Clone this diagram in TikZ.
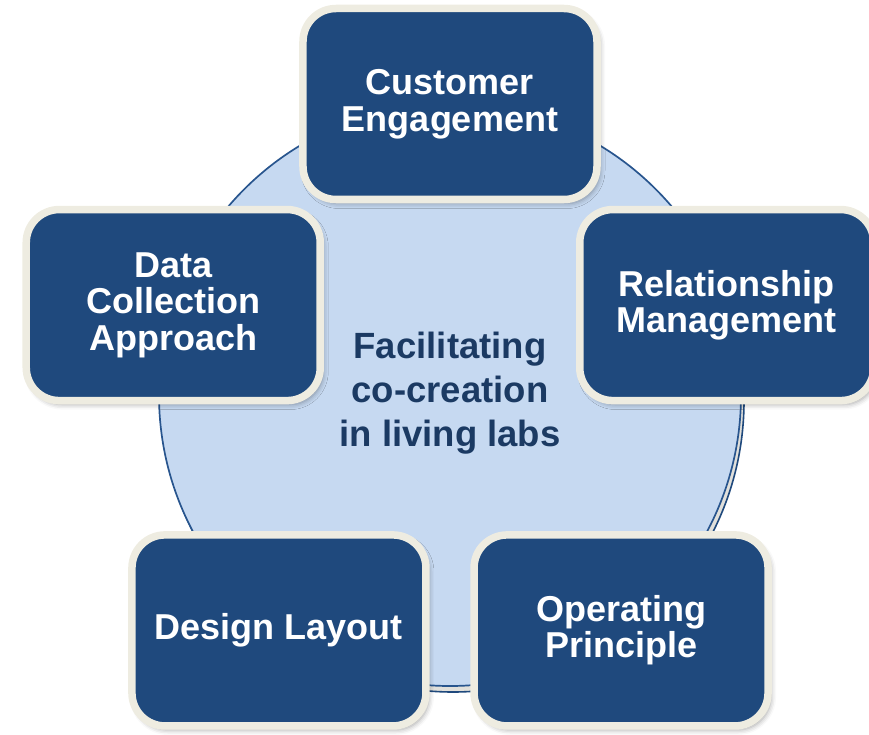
\documentclass[tikz,border=0pt]{standalone}
\usepackage{fontspec}
\setmainfont{Liberation Sans}
\usetikzlibrary{positioning, shadows.blur}
\definecolor{labnavy}{HTML}{1F497D}
\definecolor{labcream}{HTML}{EEECE1}
\definecolor{labsky}{HTML}{C6D9F1}
\definecolor{labink}{HTML}{1B3A63}
\definecolor{labrim}{HTML}{3566A8}

\begin{document}
\begin{tikzpicture}[x=1pt, y=1pt,
  hub/.style={circle, draw=labnavy!60!labrim, line width=1.7pt, fill=labsky,
              minimum size=582pt, inner sep=0pt},
  hubshade/.style={circle, draw=labnavy, line width=1.6pt, fill=labcream!70!gray!60,
                   minimum size=582pt, inner sep=0pt},
  facet/.style={rectangle, rounded corners=33pt, draw=labcream, line width=7.5pt,
                fill=labnavy, minimum width=294pt, minimum height=191pt,
                inner sep=0pt, align=center, text=white,
                font=\bfseries\fontsize{36}{36.5}\selectfont,
                blur shadow={shadow xshift=3pt, shadow yshift=-4pt,
                             shadow blur radius=5pt, shadow opacity=35}}
]
\useasboundingbox (-450,-339) rectangle (419,395);
% central disc with its offset rim
\node[hubshade] (rim) at (3,-6) {};
\node[hub] (hub) at (0,0) {};
\node[text=labink, align=center, font=\bfseries\fontsize{36.5}{44}\selectfont]
  (title) at (0,1.5) {Facilitating\\co-creation\\in living labs};
% five boxes round the disc
\node[facet] (B1) at (90:291pt)  {Customer\\Engagement};
\node[facet] (B2) at (18:291pt)  {Relationship\\Management};
\node[facet] (B3) at (-54:291pt) {Operating\\Principle};
\node[facet] (B4) at (234:291pt) {Design Layout};
\node[facet] (B5) at (162:291pt) {Data\\Collection\\Approach};
\end{tikzpicture}
\end{document}
